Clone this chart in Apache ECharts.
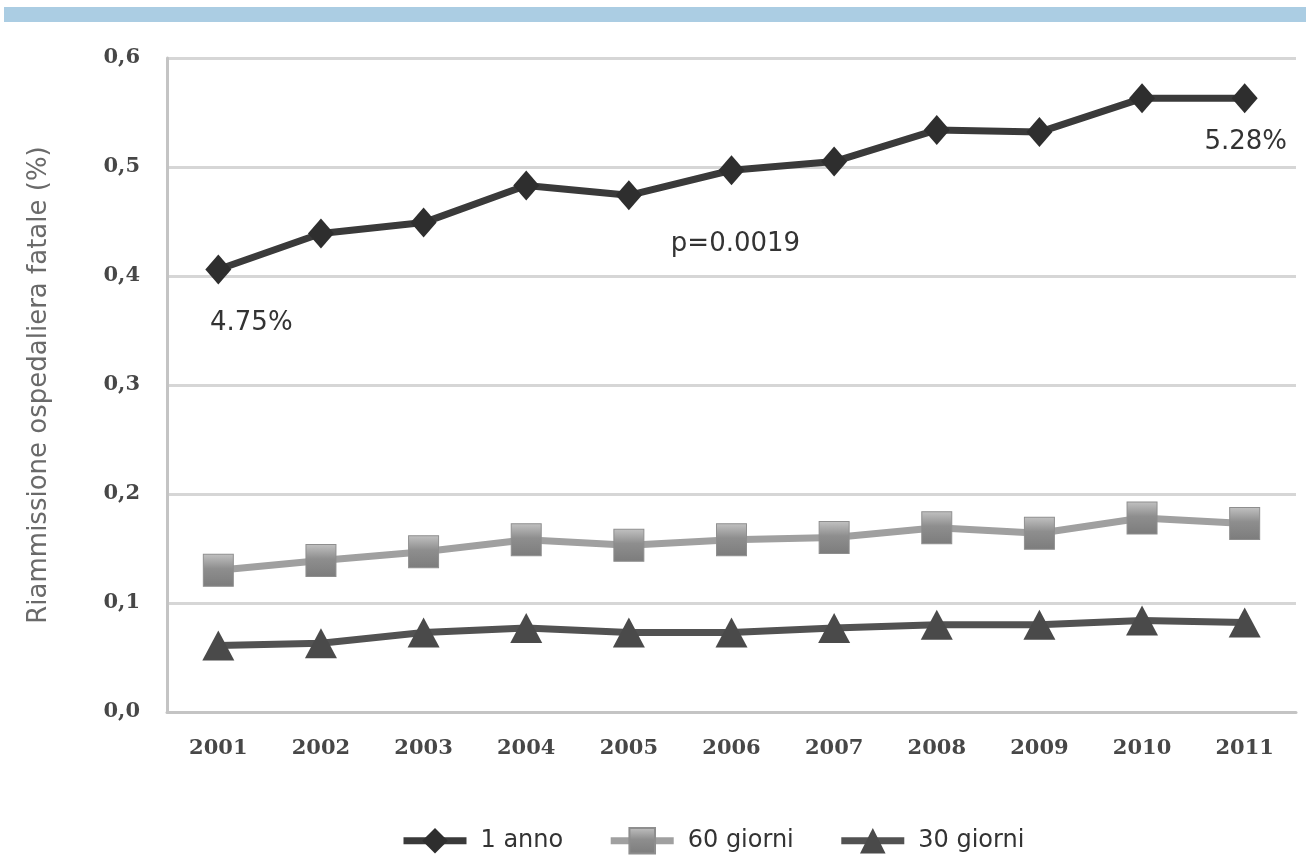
<!DOCTYPE html>
<html>
<head>
<meta charset="utf-8">
<script src="https://cdn.jsdelivr.net/npm/echarts@6/dist/echarts.min.js"></script>
<style>
  html, body { margin: 0; padding: 0; background: #fff; }
  #chart { width: 1306px; height: 855px; }
</style>
</head>
<body>
<div id="chart"></div>
<script>
// Years on the horizontal axis
const years = ['2001', '2002', '2003', '2004', '2005', '2006', '2007', '2008', '2009', '2010', '2011'];

// Fatal hospital readmission rates per follow-up window
const unAnno    = [0.406, 0.439, 0.449, 0.483, 0.474, 0.497, 0.505, 0.534, 0.532, 0.563, 0.563];
const giorni60  = [0.130, 0.139, 0.147, 0.158, 0.153, 0.158, 0.160, 0.169, 0.164, 0.178, 0.173];
const giorni30  = [0.061, 0.063, 0.073, 0.077, 0.073, 0.073, 0.077, 0.080, 0.080, 0.084, 0.082];

const seriesNames = ['1 anno', '60 giorni', '30 giorni'];
const yTicks = ['0,0', '0,1', '0,2', '0,3', '0,4', '0,5', '0,6'];

// Text notes attached to points of the 1-year curve
const noteYears = ['2001', '2006', '2011'];
const noteTexts = ['4.75%', 'p=0.0019', '5.28%'];

const noteStyle = {
  '2001': { distance: 26, offset: [33, 0] },
  '2006': { distance: 46, offset: [4, 0] },
  '2011': { distance: 16, offset: [1, 0] }
};

const sansFont = '"DejaVu Sans", "Open Sans", sans-serif';

const unAnnoData = unAnno.map((v, i) => {
  const k = noteYears.indexOf(years[i]);
  if (k < 0) return v;
  const s = noteStyle[years[i]];
  return {
    value: v,
    label: {
      show: true,
      formatter: noteTexts[k],
      position: 'bottom',
      distance: s.distance,
      offset: s.offset,
      color: '#333',
      fontSize: 26,
      fontFamily: sansFont
    }
  };
});

const chart = echarts.init(document.getElementById('chart'), null, { renderer: 'canvas' });

const tickFont = {
  color: '#474747',
  fontSize: 21,
  fontWeight: 'bold',
  fontFamily: '"DejaVu Serif", "Liberation Serif", serif'
};

chart.setOption({
  backgroundColor: '#ffffff',
  animation: false,
  graphic: [
    { type: 'rect', left: 4, top: 7, shape: { width: 1302, height: 15 }, style: { fill: '#abcde3' } }
  ],
  grid: { left: 167, right: 10, top: 58, bottom: 143 },
  legend: {
    left: 395,
    top: 822,
    itemWidth: 63,
    itemHeight: 32,
    itemGap: 44,
    lineStyle: { width: 7 },
    textStyle: { color: '#333', fontSize: 24, fontFamily: sansFont, padding: [0, 0, 0, 9] },
    data: seriesNames
  },
  xAxis: {
    type: 'category',
    data: years,
    boundaryGap: true,
    axisLine: { lineStyle: { color: '#c4c4c4', width: 3 } },
    axisTick: { show: false },
    axisLabel: Object.assign({ margin: 26 }, tickFont),
    splitLine: { show: false }
  },
  yAxis: {
    type: 'value',
    min: 0,
    max: 0.6,
    interval: 0.1,
    name: 'Riammissione ospedaliera fatale (%)',
    nameLocation: 'middle',
    nameGap: 115,
    nameTextStyle: { color: '#6a6a6a', fontSize: 26, fontFamily: sansFont },
    axisLine: { show: true, lineStyle: { color: '#c4c4c4', width: 3 } },
    axisTick: { show: false },
    axisLabel: Object.assign({ margin: 27, formatter: (v) => yTicks[Math.round(v * 10)] }, tickFont),
    splitLine: { lineStyle: { color: '#d6d6d6', width: 3 } }
  },
  series: [
    {
      name: seriesNames[0],
      type: 'line',
      data: unAnnoData,
      symbol: 'diamond',
      symbolSize: [26, 30],
      lineStyle: { color: '#3a3a3a', width: 7 },
      itemStyle: { color: '#2e2e2e' },
      z: 3
    },
    {
      name: seriesNames[1],
      type: 'line',
      data: giorni60,
      symbol: 'rect',
      symbolSize: [30, 32],
      lineStyle: { color: '#a0a0a0', width: 7 },
      itemStyle: {
        color: new echarts.graphic.LinearGradient(0, 0, 0, 1, [
          { offset: 0, color: '#c2c2c2' },
          { offset: 0.45, color: '#8e8e8e' },
          { offset: 1, color: '#7c7c7c' }
        ]),
        borderColor: '#8e8e8e',
        borderWidth: 1
      },
      z: 2
    },
    {
      name: seriesNames[2],
      type: 'line',
      data: giorni30,
      symbol: 'triangle',
      symbolSize: [32, 30],
      lineStyle: { color: '#525252', width: 7 },
      itemStyle: { color: '#4a4a4a' },
      z: 2
    }
  ]
});
</script>
</body>
</html>
